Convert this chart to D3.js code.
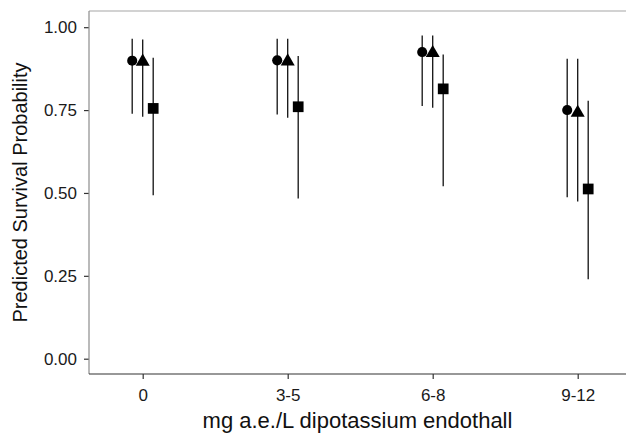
<!DOCTYPE html>
<html lang="en">
<head>
  <meta charset="UTF-8">
  <title>Predicted Survival Probability</title>
  <script src="https://d3js.org/d3.v7.min.js"></script>
  <style>
    body { margin: 0; background: #fff; }
    text { font-family: "Liberation Sans", Arial, sans-serif; }
  </style>
</head>
<body>
  <svg width="626" height="433"></svg>

  <script>
    // dose groups on the x axis
    const doses = ["0", "3-5", "6-8", "9-12"];
    // three series, drawn as circle / triangle / square
    const series = ["circle", "triangle", "square"];

    // predicted survival probability (point estimates)
    const circleFit   = [0.899, 0.900, 0.925, 0.750];
    const triangleFit = [0.899, 0.900, 0.925, 0.745];
    const squareFit   = [0.755, 0.760, 0.814, 0.512];

    // lower / upper interval bounds
    const circleLow   = [0.739, 0.737, 0.762, 0.487];
    const circleHigh  = [0.965, 0.965, 0.975, 0.905];
    const triangleLow = [0.730, 0.727, 0.757, 0.474];
    const triangleHigh= [0.963, 0.965, 0.975, 0.905];
    const squareLow   = [0.493, 0.483, 0.520, 0.240];
    const squareHigh  = [0.908, 0.913, 0.918, 0.778];

    const yTicks = [0, 0.25, 0.5, 0.75, 1];

    const fits = [circleFit, triangleFit, squareFit];
    const lows = [circleLow, triangleLow, squareLow];
    const highs = [circleHigh, triangleHigh, squareHigh];

    const rows = [];
    series.forEach((s, si) => {
      doses.forEach((d, di) => {
        rows.push({ shape: s, dose: d, fit: fits[si][di], low: lows[si][di], high: highs[si][di] });
      });
    });

    const svg = d3.select("svg");
    const panel = { left: 89, right: 626, top: 11, bottom: 374 };

    const x = d3.scalePoint().domain(doses).range([142.7, 577.7]);
    const dodge = d3.scalePoint().domain(series).range([-10.5, 10.5]);
    const y = d3.scaleLinear().domain([0, 1]).range([358.7, 27.2]);

    // panel top border (light)
    svg.append("line")
      .attr("x1", panel.left).attr("x2", panel.right)
      .attr("y1", panel.top).attr("y2", panel.top)
      .attr("stroke", "#a6a6a6").attr("stroke-width", 1.2);

    // y axis
    const yAxis = svg.append("g")
      .attr("transform", `translate(${panel.left},0)`)
      .call(d3.axisLeft(y).tickValues(yTicks).tickFormat(d3.format(".2f")).tickSize(5).tickPadding(7));
    yAxis.select(".domain").remove();
    yAxis.append("line")
      .attr("x1", 0).attr("x2", 0).attr("y1", panel.top).attr("y2", panel.bottom)
      .attr("stroke", "#8c8c8c").attr("stroke-width", 1.2);
    yAxis.selectAll(".tick line").attr("stroke", "#333").attr("stroke-width", 1.2);
    yAxis.selectAll(".tick text").attr("fill", "#1a1a1a").style("font-size", "17px");

    // x axis
    const xAxis = svg.append("g")
      .attr("transform", `translate(0,${panel.bottom})`)
      .call(d3.axisBottom(x).tickSize(5).tickPadding(10));
    xAxis.select(".domain").remove();
    xAxis.append("line")
      .attr("x1", panel.left).attr("x2", panel.right).attr("y1", 0).attr("y2", 0)
      .attr("stroke", "#333").attr("stroke-width", 1.2);
    xAxis.selectAll(".tick line").attr("stroke", "#333").attr("stroke-width", 1.2);
    xAxis.selectAll(".tick text").attr("fill", "#1a1a1a").style("font-size", "17px");

    // axis titles
    svg.append("text")
      .attr("x", (panel.left + panel.right) / 2)
      .attr("y", 428)
      .attr("text-anchor", "middle")
      .style("font-size", "22px")
      .attr("fill", "#111")
      .text("mg a.e./L dipotassium endothall");

    svg.append("text")
      .attr("transform", `translate(27,${(panel.top + panel.bottom) / 2}) rotate(-90)`)
      .attr("text-anchor", "middle")
      .style("font-size", "20px")
      .attr("fill", "#111")
      .text("Predicted Survival Probability");

    const px = d => x(d.dose) + dodge(d.shape);

    // interval lines
    svg.append("g").selectAll("line")
      .data(rows)
      .join("line")
      .attr("x1", px).attr("x2", px)
      .attr("y1", d => y(d.high)).attr("y2", d => y(d.low))
      .attr("stroke", "#111").attr("stroke-width", 1.3);

    // point markers
    const symbolType = { circle: d3.symbolCircle, triangle: d3.symbolTriangle, square: d3.symbolSquare };
    const symbolSize = { circle: 80, triangle: 85, square: 115 };
    svg.append("g").selectAll("path")
      .data(rows)
      .join("path")
      .attr("transform", d => `translate(${px(d)},${y(d.fit) + (d.shape === "triangle" ? 1 : 0)})`)
      .attr("d", d => d3.symbol(symbolType[d.shape], symbolSize[d.shape])())
      .attr("fill", "#000");
  </script>
</body>
</html>
